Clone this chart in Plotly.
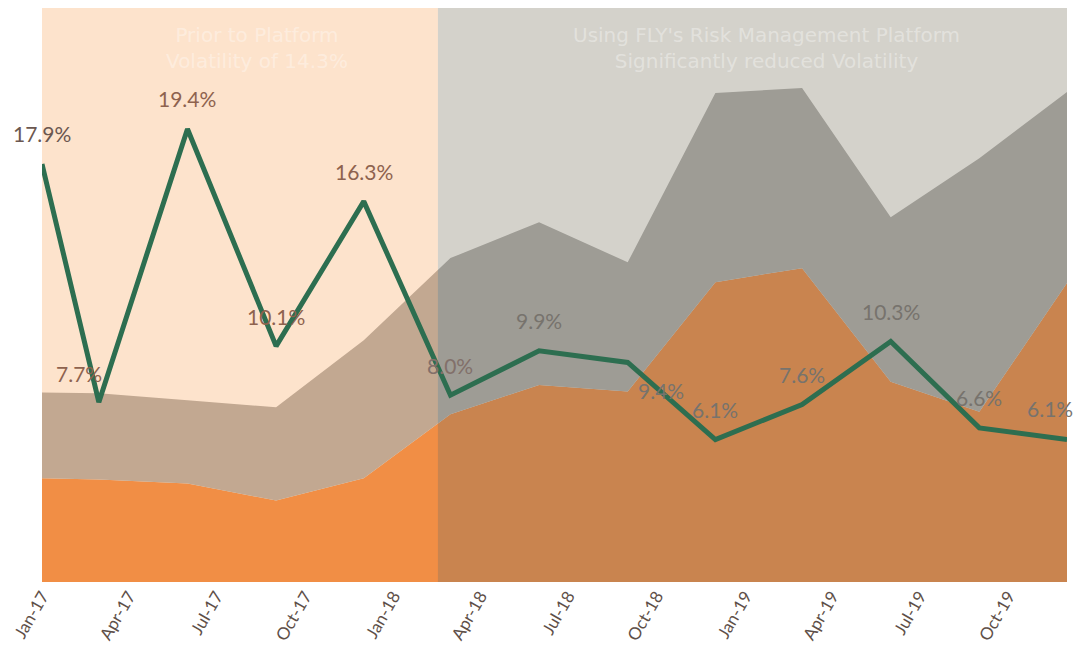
import plotly.graph_objects as go

# ---------------- data ----------------
dates = ["2017-01-01", "2017-03-01", "2017-06-01", "2017-09-01", "2017-12-01",
         "2018-03-01", "2018-06-01", "2018-09-01", "2018-12-01",
         "2019-03-01", "2019-06-01", "2019-09-01", "2019-12-01"]
volatility = [17.9, 7.7, 19.4, 10.1, 16.3, 8.0, 9.9, 9.4, 6.1, 7.6, 10.3, 6.6, 6.1]
orange_area = [4.44, 4.39, 4.22, 3.49, 4.44, 7.18, 8.44, 8.16, 12.84, 13.44, 8.57, 7.29, 12.80]
grey_area = [3.68, 3.69, 3.56, 3.99, 5.91, 6.69, 6.97, 5.53, 8.10, 7.71, 7.05, 10.86, 8.18]

tick_dates = ["2017-01-01", "2017-04-01", "2017-07-01", "2017-10-01",
              "2018-01-01", "2018-04-01", "2018-07-01", "2018-10-01",
              "2019-01-01", "2019-04-01", "2019-07-01", "2019-10-01"]
tick_labels = ["Jan-17", "Apr-17", "Jul-17", "Oct-17", "Jan-18", "Apr-18",
               "Jul-18", "Oct-18", "Jan-19", "Apr-19", "Jul-19", "Oct-19"]

region_split = "2018-02-16"
y_top = 24.58

left_title = "Prior to Platform<br>Volatility of 14.3%"
right_title = "Using FLY's Risk Management Platform<br>Significantly reduced Volatility"

# ---------------- styles ----------------
FONT = "Lato"
TITLE_FONT = "DejaVu Sans"
ORANGE = "rgb(237,125,49)"
GREY = "rgb(165,165,165)"
LEFT_OVERLAY = "rgba(249,174,109,0.35)"
RIGHT_OVERLAY = "rgba(148,142,125,0.40)"
LINE_COLOR = "#2d6e50"
LEFT_LABEL = "#8e624e"
RIGHT_LABEL = "#77736d"

fig = go.Figure()

fig.add_trace(go.Scatter(x=dates, y=orange_area, stackgroup="s", mode="none",
                         fillcolor=ORANGE, line=dict(width=0), hoverinfo="skip",
                         showlegend=False))
fig.add_trace(go.Scatter(x=dates, y=grey_area, stackgroup="s", mode="none",
                         fillcolor=GREY, line=dict(width=0), hoverinfo="skip",
                         showlegend=False))

# translucent region overlays (before / after platform)
x0, x1 = dates[0], dates[-1]
fig.add_trace(go.Scatter(x=[x0, region_split, region_split, x0],
                         y=[0, 0, y_top, y_top], fill="toself", mode="none",
                         fillcolor=LEFT_OVERLAY, hoverinfo="skip", showlegend=False))
fig.add_trace(go.Scatter(x=[region_split, x1, x1, region_split],
                         y=[0, 0, y_top, y_top], fill="toself", mode="none",
                         fillcolor=RIGHT_OVERLAY, hoverinfo="skip", showlegend=False))

fig.add_trace(go.Scatter(x=dates, y=volatility, mode="lines",
                         line=dict(color=LINE_COLOR, width=5),
                         hoverinfo="skip", showlegend=False))

# data labels
shifts = {1: (-20, 29), 7: (33, -28), 12: (-17, 31)}
for i, (d, v) in enumerate(zip(dates, volatility)):
    xs, ys = shifts.get(i, (0, 30))
    if i == 0:
        col = "#6b5750"
    elif i < 5:
        col = LEFT_LABEL
    elif i == 5:
        col = "#82706a"
    else:
        col = RIGHT_LABEL
    fig.add_annotation(x=d, y=v, text=f"{v:.1f}%", showarrow=False,
                       xshift=xs, yshift=ys,
                       font=dict(family=FONT, size=21, color=col))

# region titles
fig.add_annotation(xref="paper", yref="paper", x=0.21, y=0.978, xanchor="center",
                   yanchor="top", text=left_title, showarrow=False, align="center",
                   font=dict(family=TITLE_FONT, size=20, color="rgba(255,255,255,0.36)"))
fig.add_annotation(xref="paper", yref="paper", x=0.707, y=0.978, xanchor="center",
                   yanchor="top", text=right_title, showarrow=False, align="center",
                   font=dict(family=TITLE_FONT, size=20, color="rgba(255,255,255,0.36)"))

fig.update_layout(
    width=1075, height=655,
    margin=dict(l=34, r=16, t=0, b=81),
    paper_bgcolor="white", plot_bgcolor="white",
    showlegend=False,
    font=dict(family=FONT),
    xaxis=dict(type="date", range=[x0, x1], tickvals=tick_dates, ticktext=tick_labels,
               tickangle=-60, showgrid=False, zeroline=False, showline=False,
               ticks="", tickfont=dict(family=FONT, size=17, color="#5e4f48")),
    yaxis=dict(range=[0, y_top], showgrid=False, zeroline=False, showline=False,
               showticklabels=False, ticks=""),
)

fig.write_html("out.html")
